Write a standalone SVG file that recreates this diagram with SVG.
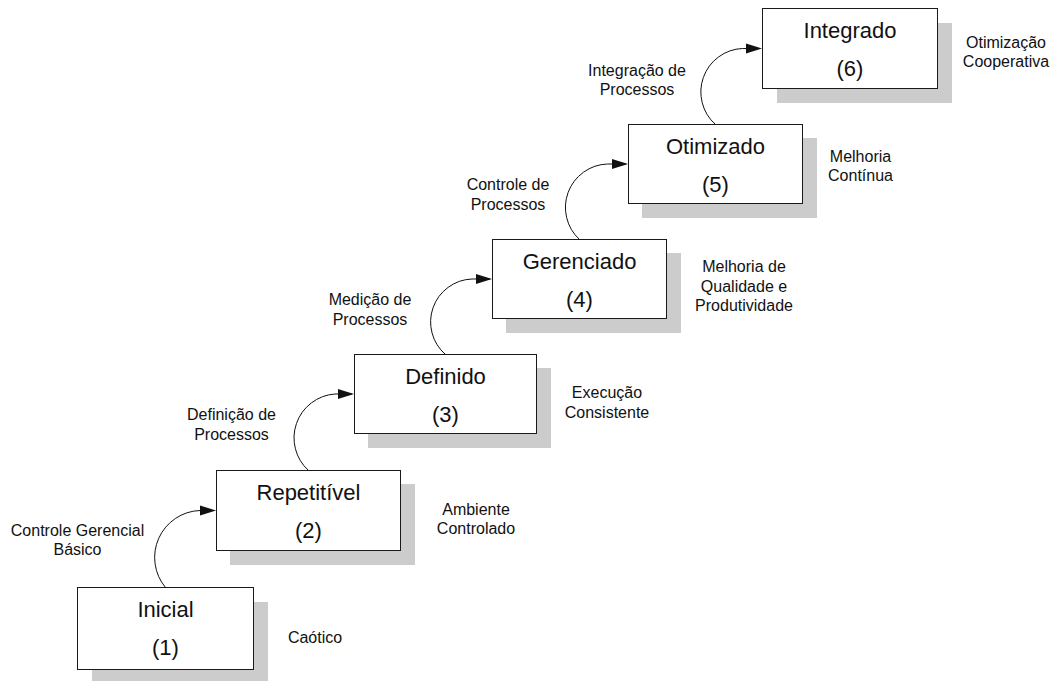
<svg xmlns="http://www.w3.org/2000/svg" width="1053" height="681" viewBox="0 0 1053 681">
  <style>
    .shadow { fill: #cccccc; stroke: none; }
    .box { fill: #ffffff; stroke: #1a1a1a; stroke-width: 1; }
    .title { font-family: "Liberation Sans", Arial, sans-serif; font-size: 22px; fill: #111111; text-anchor: middle; }
    .label { font-family: "Liberation Sans", Arial, sans-serif; font-size: 16px; fill: #111111; text-anchor: middle; }
    .link { fill: none; stroke: #111111; stroke-width: 1; marker-end: url(#arrow); }
  </style>
  <defs>
    <marker id="arrow" markerUnits="userSpaceOnUse" markerWidth="16" markerHeight="10" refX="14" refY="5" orient="auto" overflow="visible">
      <path d="M0,0 L16,5 L0,10 Z" fill="#111111"/>
    </marker>
  </defs>

  <rect width="1053" height="681" fill="#ffffff"/>

  <!-- maturity levels -->
  <g id="level1">
    <rect class="shadow" x="92" y="602" width="176" height="82"/>
    <rect class="box" x="77.5" y="587.5" width="176" height="82"/>
    <text class="title" x="165.5" y="617">Inicial</text>
    <text class="title" x="165.5" y="655">(1)</text>
  </g>
  <g id="level2">
    <rect class="shadow" x="230" y="484" width="185" height="81"/>
    <rect class="box" x="216.5" y="470.5" width="184" height="80"/>
    <text class="title" x="308.5" y="500">Repetitível</text>
    <text class="title" x="308.5" y="538">(2)</text>
  </g>
  <g id="level3">
    <rect class="shadow" x="368" y="368" width="183" height="80"/>
    <rect class="box" x="354.5" y="354.5" width="182" height="79"/>
    <text class="title" x="445.5" y="384">Definido</text>
    <text class="title" x="445.5" y="422">(3)</text>
  </g>
  <g id="level4">
    <rect class="shadow" x="506" y="253" width="175" height="80"/>
    <rect class="box" x="492.5" y="239.5" width="174" height="79"/>
    <text class="title" x="579.5" y="269">Gerenciado</text>
    <text class="title" x="579.5" y="307">(4)</text>
  </g>
  <g id="level5">
    <rect class="shadow" x="642" y="138" width="175" height="80"/>
    <rect class="box" x="628.5" y="124.5" width="174" height="79"/>
    <text class="title" x="715.5" y="154">Otimizado</text>
    <text class="title" x="715.5" y="192">(5)</text>
  </g>
  <g id="level6">
    <rect class="shadow" x="777" y="23" width="175" height="80"/>
    <rect class="box" x="762.5" y="8.5" width="175" height="80"/>
    <text class="title" x="850" y="38">Integrado</text>
    <text class="title" x="850" y="76">(6)</text>
  </g>

  <!-- transitions between levels -->
  <g id="connectors">
    <path class="link" d="M165.5,587.5 A47,47 0 0 1 200,510.5 L214,510.5"/>
    <path class="link" d="M308.5,470.5 A44,44 0 0 1 335,394 L352,394"/>
    <path class="link" d="M445.5,354.5 A43,43 0 0 1 472,279 L490,279"/>
    <path class="link" d="M579.5,239.5 A43.5,43.5 0 0 1 607.5,164 L626,164"/>
    <path class="link" d="M715.5,124.5 A43.5,43.5 0 0 1 742.5,48.5 L760,48.5"/>
  </g>

  <!-- transition labels -->
  <g id="transition-labels">
    <text class="label" x="77.5" y="536">Controle Gerencial</text>
    <text class="label" x="77.5" y="555">Básico</text>
    <text class="label" x="231.5" y="420">Definição de</text>
    <text class="label" x="231.5" y="440">Processos</text>
    <text class="label" x="370" y="305">Medição de</text>
    <text class="label" x="370" y="325">Processos</text>
    <text class="label" x="508" y="190">Controle de</text>
    <text class="label" x="508" y="210">Processos</text>
    <text class="label" x="637" y="76">Integração de</text>
    <text class="label" x="637" y="95">Processos</text>
  </g>

  <!-- level descriptions -->
  <g id="level-descriptions">
    <text class="label" x="315" y="643">Caótico</text>
    <text class="label" x="476" y="515">Ambiente</text>
    <text class="label" x="476" y="534">Controlado</text>
    <text class="label" x="607" y="398">Execução</text>
    <text class="label" x="607" y="418">Consistente</text>
    <text class="label" x="744" y="272">Melhoria de</text>
    <text class="label" x="744" y="291.5">Qualidade e</text>
    <text class="label" x="744" y="311">Produtividade</text>
    <text class="label" x="860.5" y="162">Melhoria</text>
    <text class="label" x="860.5" y="181">Contínua</text>
    <text class="label" x="1006" y="48">Otimização</text>
    <text class="label" x="1006" y="66.5">Cooperativa</text>
  </g>
</svg>
